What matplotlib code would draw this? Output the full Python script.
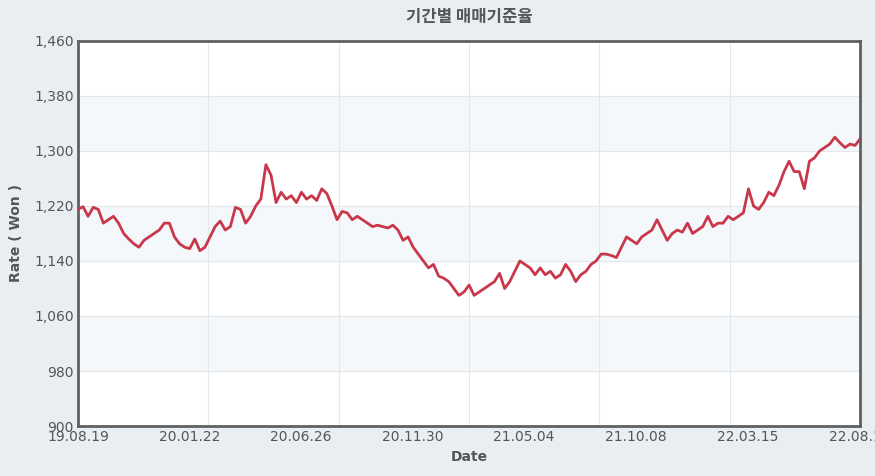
import matplotlib
matplotlib.use("Agg")
import matplotlib.pyplot as plt
import matplotlib.dates as mdates
import pandas as pd

plt.rcParams['font.family'] = ['Noto Sans CJK KR', 'DejaVu Sans']

start_date = "2019-08-19"
end_date = "2022-08-19"
rates = [1215, 1219, 1205, 1218, 1215, 1195, 1200, 1205, 1195, 1180, 1172, 1165, 1160, 1170, 1175,
         1180, 1185, 1195, 1195, 1175, 1165, 1160, 1158, 1172, 1155, 1160, 1175, 1190, 1198, 1185,
         1190, 1218, 1215, 1195, 1205, 1220, 1230, 1280, 1265, 1225, 1240, 1230, 1235, 1225, 1240,
         1230, 1235, 1228, 1245, 1238, 1220, 1200, 1212, 1210, 1200, 1205, 1200, 1195, 1190, 1192,
         1190, 1188, 1192, 1185, 1170, 1175, 1160, 1150, 1140, 1130, 1135, 1118, 1115, 1110, 1100,
         1090, 1095, 1105, 1090, 1095, 1100, 1105, 1110, 1122, 1100, 1110, 1125, 1140, 1135, 1130,
         1120, 1130, 1120, 1125, 1115, 1120, 1135, 1125, 1110, 1120, 1125, 1135, 1140, 1150, 1150,
         1148, 1145, 1160, 1175, 1170, 1165, 1175, 1180, 1185, 1200, 1185, 1170, 1180, 1185, 1182,
         1195, 1180, 1185, 1190, 1205, 1190, 1195, 1195, 1205, 1200, 1205, 1210, 1245, 1220, 1215,
         1225, 1240, 1235, 1250, 1270, 1285, 1270, 1270, 1245, 1285, 1290, 1300, 1305, 1310, 1320,
         1312, 1305, 1310, 1308, 1318]
tick_dates = ["2019-08-19", "2020-01-22", "2020-06-26", "2020-11-30", "2021-05-04",
              "2021-10-08", "2022-03-15", "2022-08-19"]
tick_labels = ["19.08.19", "20.01.22", "20.06.26", "20.11.30", "21.05.04",
               "21.10.08", "22.03.15", "22.08.19"]
y_ticks = [900, 980, 1060, 1140, 1220, 1300, 1380, 1460]

dates = pd.date_range(start_date, end_date, periods=len(rates))

fig = plt.figure(figsize=(8.75, 4.76), dpi=100)
fig.patch.set_facecolor('#e9eef2')
ax = fig.add_axes([0.0891, 0.105, 0.894, 0.809])
ax.set_facecolor('white')

x0, x1 = mdates.date2num(pd.Timestamp(start_date)), mdates.date2num(pd.Timestamp(end_date))
ax.set_xlim(x0, x1)
ax.set_ylim(900, 1460)

for i in range(len(y_ticks) - 1):
    if i % 2 == 1:
        ax.axhspan(y_ticks[i], y_ticks[i + 1], color='#f5f8fb', zorder=0)
for y in y_ticks:
    ax.axhline(y, color='#e3e7ea', lw=0.8, zorder=0.5)
for k in range(1, 6):
    ax.axvline(x0 + (x1 - x0) * k / 6, color='#e3e7ea', lw=0.8, zorder=0.5)

ax.plot(dates, rates, color='#c8384b', lw=2, zorder=3)

ax.set_yticks(y_ticks)
ax.set_yticklabels([f"{v:,}" for v in y_ticks], fontsize=10, color='#555555', family='DejaVu Sans')
ax.set_xticks([mdates.date2num(pd.Timestamp(d)) for d in tick_dates])
ax.set_xticklabels(tick_labels, fontsize=10, color='#555555', family='DejaVu Sans')
ax.tick_params(length=0, pad=3)
for s in ax.spines.values():
    s.set_color('#606060')
    s.set_linewidth(2)

ax.set_xlabel("Date", fontsize=10, fontweight='bold', color='#555555', family='DejaVu Sans', labelpad=4)
ax.set_ylabel("Rate ( Won )", fontsize=10, fontweight='bold', color='#555555', family='DejaVu Sans', labelpad=8)
fig.text(0.536, 0.965, "기간별 매매기준율", ha='center', va='center', fontsize=12,
         fontweight='bold', color='#555555')

fig.savefig("out.png", dpi=100, facecolor=fig.get_facecolor())
